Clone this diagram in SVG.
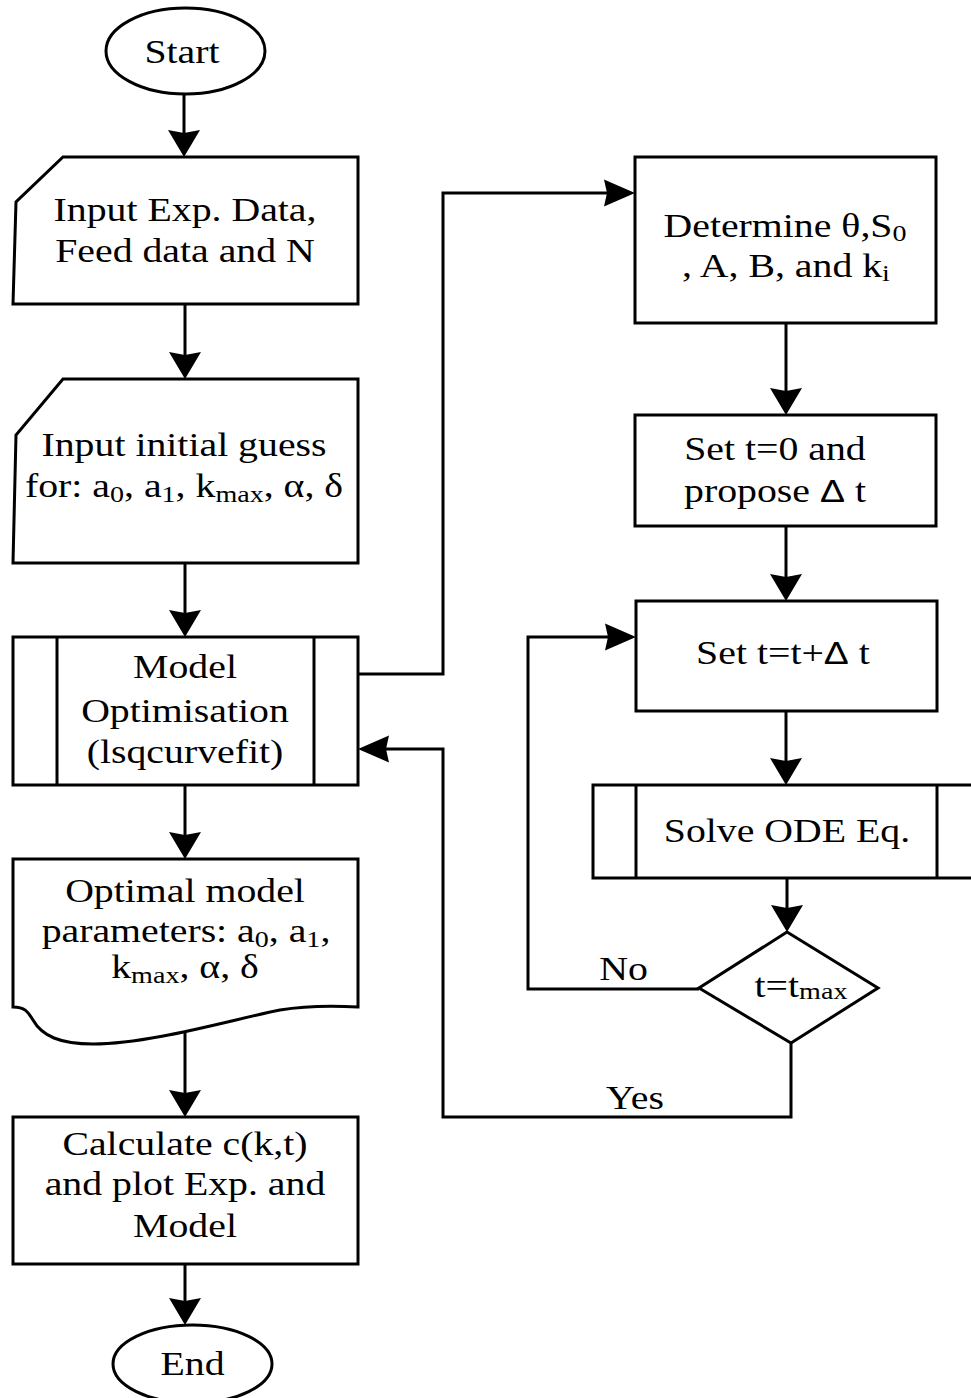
<svg xmlns="http://www.w3.org/2000/svg" width="971" height="1398" viewBox="0 0 971 1398">
  <style>
    .shape { fill: #ffffff; stroke: #000000; stroke-width: 3; stroke-linejoin: miter; }
    .bar { fill: none; stroke: #000000; stroke-width: 3; }
    .link { fill: none; stroke: #000000; stroke-width: 3; stroke-linejoin: miter; }
    .v { marker-end: url(#ah-v); }
    .h { marker-end: url(#ah-h); }
    .lbl { font-family: "Liberation Serif", "Times New Roman", serif; font-size: 34px; fill: #000000; text-anchor: middle; }
    .sub { font-size: 24px; }
    .delta { font-family: "Liberation Sans", Arial, sans-serif; font-size: 32px; }
  </style>
  <defs>
    <!-- arrowhead for vertical runs -->
    <marker id="ah-v" markerUnits="userSpaceOnUse" markerWidth="40" markerHeight="40" viewBox="-30 -20 40 40" refX="0" refY="0" orient="auto" overflow="visible">
      <path d="M6,0 L-21,-16 L-18,0 L-21,16 Z" fill="#000000"/>
    </marker>
    <!-- arrowhead for horizontal runs -->
    <marker id="ah-h" markerUnits="userSpaceOnUse" markerWidth="40" markerHeight="40" viewBox="-30 -20 40 40" refX="0" refY="0" orient="auto" overflow="visible">
      <path d="M6,0 L-25,-13.5 L-22,0 L-25,13.5 Z" fill="#000000"/>
    </marker>
  </defs>

  <rect x="0" y="0" width="971" height="1398" fill="#ffffff"/>

  <!-- connectors -->
  <g id="connectors">
    <path class="link v" d="M184,94 V151"/>
    <path class="link v" d="M185,304 V373"/>
    <path class="link v" d="M185,563 V631"/>
    <path class="link v" d="M185,785 V853"/>
    <path class="link v" d="M185,1032 V1111"/>
    <path class="link v" d="M185,1264 V1319"/>
    <path class="link h" d="M358,674 H443 V193 H629"/>
    <path class="link v" d="M786,323 V409"/>
    <path class="link v" d="M786,526 V595"/>
    <path class="link v" d="M786,711 V779"/>
    <path class="link v" d="M787,878 V926"/>
    <path class="link h" d="M699,989 H528 V637 H630"/>
    <path class="link h" d="M791,1043 V1117 H443 V749 H364"/>
  </g>

  <!-- start -->
  <g id="start">
    <ellipse class="shape" cx="185.5" cy="51" rx="79.5" ry="43"/>
    <text class="lbl" transform="translate(182 0) scale(1.17 1)" x="0" y="63">Start</text>
  </g>

  <!-- input experimental data -->
  <g id="input-data">
    <path class="shape" d="M63,157 H358 V304 H13 L16,202 Z"/>
    <text class="lbl" transform="translate(185 0) scale(1.17 1)" x="0" y="221">Input Exp. Data,</text>
    <text class="lbl" transform="translate(185 0) scale(1.17 1)" x="0" y="262">Feed data and N</text>
  </g>

  <!-- input initial guess -->
  <g id="input-guess">
    <path class="shape" d="M63,379 H358 V563 H13 L16,435 Z"/>
    <text class="lbl" transform="translate(184 0) scale(1.17 1)" x="0" y="456">Input initial guess</text>
    <text class="lbl" transform="translate(184 0) scale(1.17 1)" x="0" y="497">for: a<tspan class="sub" dy="5">0</tspan><tspan dy="-5">, a</tspan><tspan class="sub" dy="5">1</tspan><tspan dy="-5">, k</tspan><tspan class="sub" dy="5">max</tspan><tspan dy="-5">, α, δ</tspan></text>
  </g>

  <!-- model optimisation (predefined process) -->
  <g id="model-optimisation">
    <rect class="shape" x="13" y="637" width="345" height="148"/>
    <line class="bar" x1="57" y1="637" x2="57" y2="785"/>
    <line class="bar" x1="314" y1="637" x2="314" y2="785"/>
    <text class="lbl" transform="translate(185 0) scale(1.17 1)" x="0" y="678">Model</text>
    <text class="lbl" transform="translate(185 0) scale(1.17 1)" x="0" y="722">Optimisation</text>
    <text class="lbl" transform="translate(185 0) scale(1.17 1)" x="0" y="763">(lsqcurvefit)</text>
  </g>

  <!-- optimal parameters (document) -->
  <g id="optimal-parameters">
    <path class="shape" d="M13,859 H358 V1007 C340,1006 310,1005 280,1010 C230,1020 150,1044 93,1044 C60,1044 42,1036 33,1020 C28,1012 25,1007 13,1007 Z"/>
    <text class="lbl" transform="translate(185 0) scale(1.17 1)" x="0" y="902">Optimal model</text>
    <text class="lbl" transform="translate(186 0) scale(1.17 1)" x="0" y="942">parameters: a<tspan class="sub" dy="5">0</tspan><tspan dy="-5">, a</tspan><tspan class="sub" dy="5">1</tspan><tspan dy="-5">,</tspan></text>
    <text class="lbl" transform="translate(185 0) scale(1.17 1)" x="0" y="978">k<tspan class="sub" dy="5">max</tspan><tspan dy="-5">, α, δ</tspan></text>
  </g>

  <!-- calculate and plot -->
  <g id="calculate">
    <rect class="shape" x="13" y="1117" width="345" height="147"/>
    <text class="lbl" transform="translate(185 0) scale(1.17 1)" x="0" y="1155">Calculate c(k,t)</text>
    <text class="lbl" transform="translate(185 0) scale(1.17 1)" x="0" y="1195">and plot Exp. and</text>
    <text class="lbl" transform="translate(185 0) scale(1.17 1)" x="0" y="1237">Model</text>
  </g>

  <!-- end -->
  <g id="end">
    <ellipse class="shape" cx="192.5" cy="1364" rx="79.5" ry="39"/>
    <text class="lbl" transform="translate(192.5 0) scale(1.17 1)" x="0" y="1375">End</text>
  </g>

  <!-- determine constants -->
  <g id="determine">
    <rect class="shape" x="635" y="157" width="301" height="166"/>
    <text class="lbl" transform="translate(785 0) scale(1.17 1)" x="0" y="237">Determine θ,S<tspan class="sub" dy="4">0</tspan></text>
    <text class="lbl" transform="translate(786 0) scale(1.17 1)" x="0" y="277">, A, B, and k<tspan class="sub" dy="4">i</tspan></text>
  </g>

  <!-- initial time step -->
  <g id="set-t0">
    <rect class="shape" x="635" y="415" width="301" height="111"/>
    <text class="lbl" transform="translate(775 0) scale(1.17 1)" x="0" y="460">Set t=0 and</text>
    <text class="lbl" transform="translate(775 0) scale(1.17 1)" x="0" y="502">propose <tspan class="delta">Δ</tspan> t</text>
  </g>

  <!-- advance time -->
  <g id="set-t-step">
    <rect class="shape" x="636" y="601" width="301" height="110"/>
    <text class="lbl" transform="translate(783 0) scale(1.17 1)" x="0" y="664">Set t=t+<tspan class="delta">Δ</tspan> t</text>
  </g>

  <!-- ODE solver (predefined process) -->
  <g id="solve-ode">
    <rect class="shape" x="593" y="785" width="395" height="93"/>
    <line class="bar" x1="636" y1="785" x2="636" y2="878"/>
    <line class="bar" x1="937" y1="785" x2="937" y2="878"/>
    <text class="lbl" transform="translate(787 0) scale(1.17 1)" x="0" y="842">Solve ODE Eq.</text>
  </g>

  <!-- end-time decision -->
  <g id="decision">
    <path class="shape" d="M787,932 L878,988 L791,1043 L699,988 Z"/>
    <text class="lbl" transform="translate(801 0) scale(1.17 1)" x="0" y="997">t=t<tspan class="sub" dy="2">max</tspan></text>
  </g>

  <!-- branch labels -->
  <g id="labels">
    <text class="lbl" transform="translate(623.5 0) scale(1.17 1)" x="0" y="980">No</text>
    <text class="lbl" transform="translate(635 0) scale(1.17 1)" x="0" y="1109">Yes</text>
  </g>
</svg>
